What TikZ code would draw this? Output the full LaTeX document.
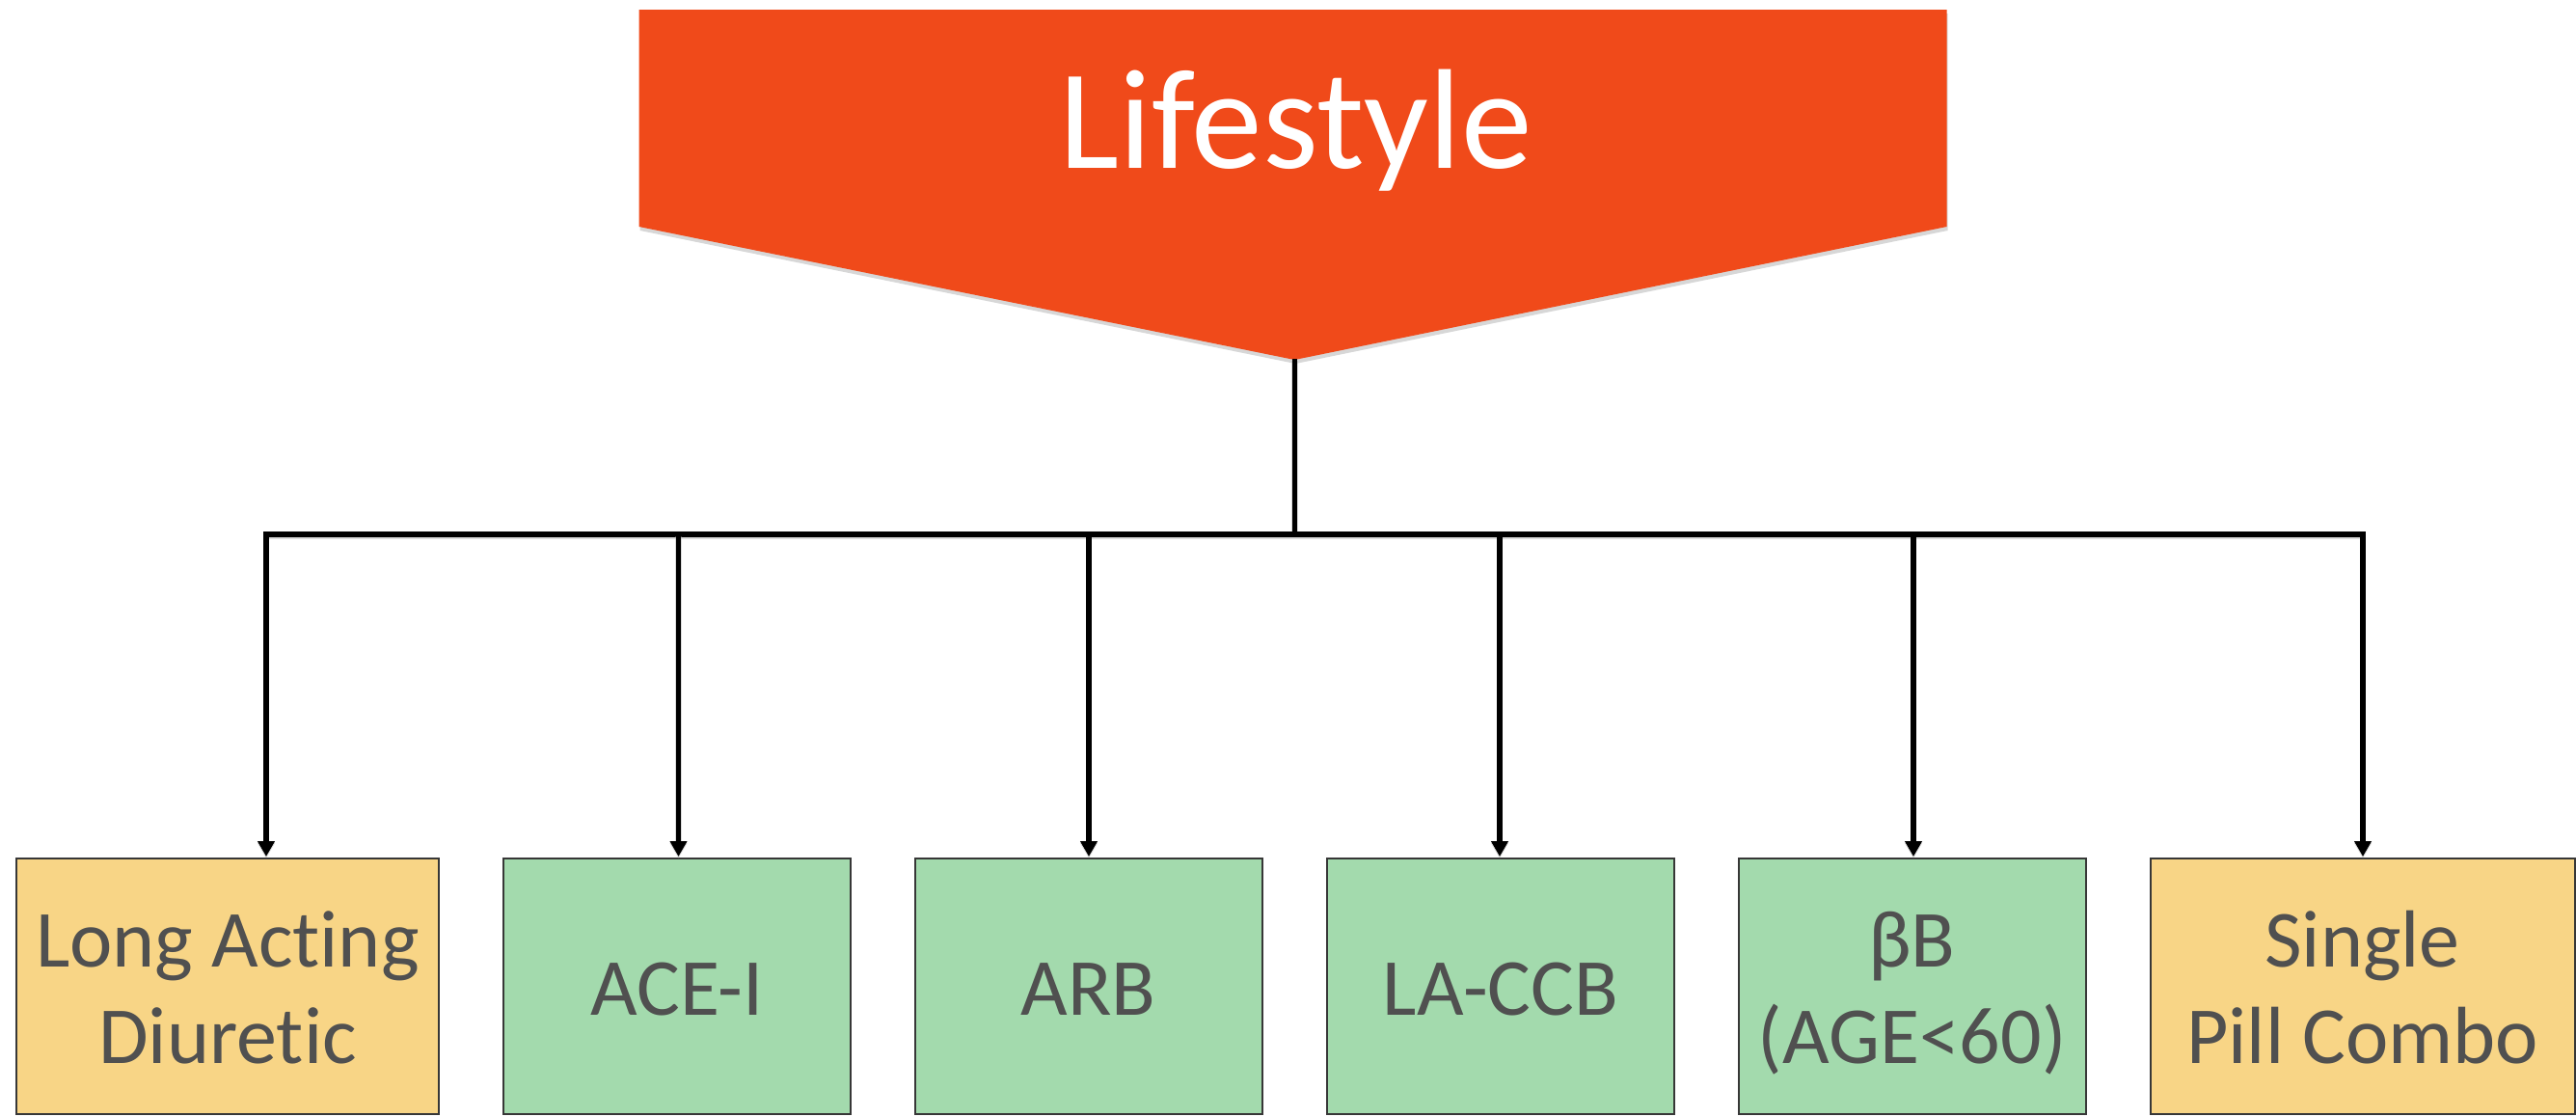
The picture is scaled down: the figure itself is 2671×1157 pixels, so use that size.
\documentclass[tikz,border=0pt]{standalone}
\usepackage{fontspec}
\setmainfont[RawFeature={-liga;-clig;-calt;-dlig}]{Carlito}
\usetikzlibrary{arrows.meta}
\definecolor{lsorange}{RGB}{240,74,26}
\definecolor{lsyellow}{RGB}{248,213,134}
\definecolor{lsgreen}{RGB}{163,218,173}
\definecolor{lstext}{RGB}{80,80,80}
\definecolor{lsborder}{RGB}{55,55,55}
\begin{document}
\begin{tikzpicture}[x=1pt,y=-1pt,
  boxbase/.style={draw=lsborder, line width=2pt, rectangle, inner sep=0pt, outer sep=0pt, minimum height=265pt},
  ybox/.style={boxbase, fill=lsyellow, minimum width=438pt},
  gbox/.style={boxbase, fill=lsgreen, minimum width=360pt},
  lbl/.style={anchor=base, text=lstext, font=\fontsize{84}{100}\selectfont, inner sep=0pt},
  wire/.style={line width=5.5pt, black, preaction={draw=black!35, opacity=0.4, line width=6.5pt, transform canvas={yshift=-2pt}}},
  arr/.style={wire, -{Triangle[width=17pt,length=16pt]}, shorten >=2pt},
]
\useasboundingbox (0,0) rectangle (2671,1157);
% head pentagon with soft shadow
\fill[black!45, opacity=0.35, transform canvas={xshift=1pt,yshift=-4pt}]
  (662.6,10) -- (2018.5,10) -- (2018.5,235) -- (1342.3,373) -- (662.6,235) -- cycle;
\fill[lsorange] (662.6,10) -- (2018.5,10) -- (2018.5,235) -- (1342.3,373) -- (662.6,235) -- cycle;
\node[anchor=base, text=white, font=\fontsize{147.5}{160}\selectfont, inner sep=0pt] (life) at (1343.5,174) {Lifestyle};
\coordinate (tip) at (1342.3,372);
\coordinate (bus) at (1342.3,554);
% boxes
\node[ybox, minimum width=438pt] (b1) at (236,1022.5) {};
\node[gbox] (b2) at (702,1022.5) {};
\node[gbox] (b3) at (1128.5,1022.5) {};
\node[gbox] (b4) at (1556,1022.5) {};
\node[gbox] (b5) at (1982.5,1022.5) {};
\node[ybox, minimum width=440pt] (b6) at (2449.5,1022.5) {};
% labels
\node[lbl] (t1a) at (236,1002) {Long Acting};
\node[lbl] (t1b) at (236,1102) {Diuretic};
\node[lbl] (t2) at (702,1052) {ACE-I};
\node[lbl] (t3) at (1128.5,1052) {ARB};
\node[lbl] (t4) at (1556,1052) {LA-CCB};
\node[lbl] (t5a) at (1982.5,1002) {βB};
\node[lbl] (t5b) at (1982.5,1102) {(AGE<60)};
\node[lbl] (t6a) at (2449.5,1002) {Single};
\node[lbl] (t6b) at (2449.5,1102) {Pill Combo};
% junctions on the bus
\coordinate (j1) at (276,554);
\coordinate (j2) at (703.5,554);
\coordinate (j3) at (1129,554);
\coordinate (j4) at (1555,554);
\coordinate (j5) at (1984,554);
\coordinate (j6) at (2450,554);
% connectors
\draw[wire] (tip) -- (bus);
\draw[arr] (bus) -| (j1 |- b1.north);
\draw[arr] (bus) -| (j6 |- b6.north);
\draw[arr] (j2) -- (j2 |- b2.north);
\draw[arr] (j3) -- (j3 |- b3.north);
\draw[arr] (j4) -- (j4 |- b4.north);
\draw[arr] (j5) -- (j5 |- b5.north);
\end{tikzpicture}
\end{document}
